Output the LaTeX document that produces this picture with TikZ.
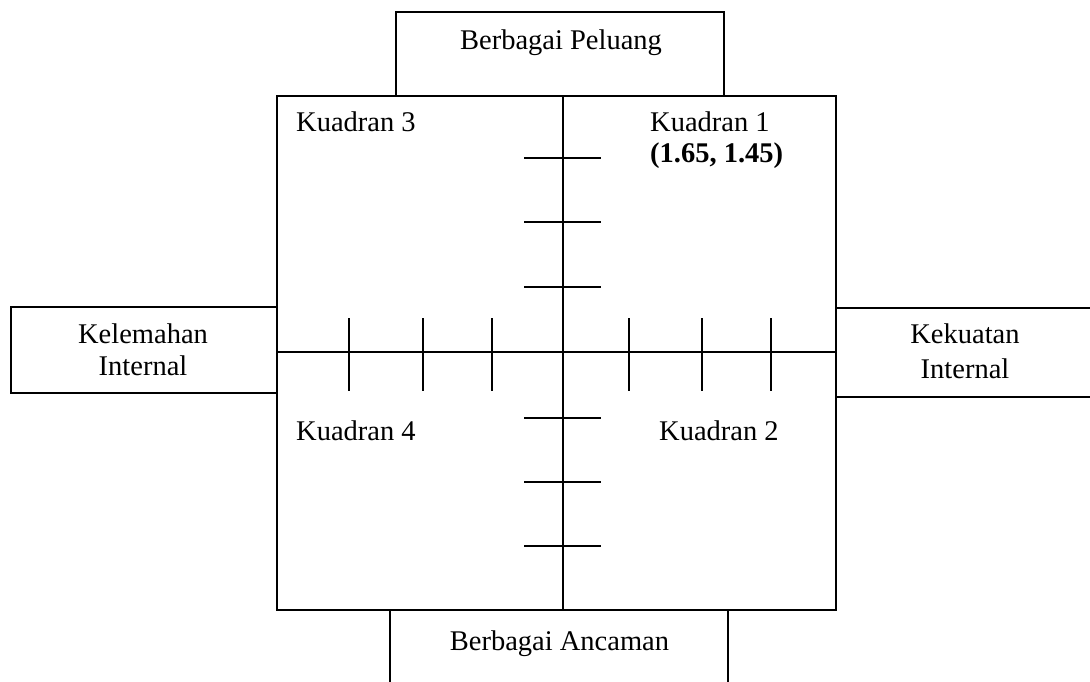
\documentclass[tikz,border=0pt]{standalone}
\usepackage{fontspec}
\setmainfont{Liberation Serif}
\begin{document}
\begin{tikzpicture}[x=1pt,y=-1pt]
	\tikzset{kotak/.style={draw, line width=1.4pt, inner sep=0pt}, teks/.style={font=\fontsize{28.5}{33}\selectfont, inner sep=0pt}};
	\useasboundingbox (0,0) rectangle (1090,682);
	\node[kotak, minimum width=559pt, minimum height=514pt] (matriks) at (556.5,353) {};
	\node[kotak, minimum width=328pt, minimum height=84pt] (peluang) at (560,54) {};
	\node[kotak, minimum width=266pt, minimum height=86pt] (kelemahan) at (144,350) {};
	\node[kotak, minimum width=258pt, minimum height=89pt] (kekuatan) at (965,352.5) {};
	\node[kotak, minimum width=338pt, minimum height=84pt] (ancaman) at (559,652) {};

	\coordinate (O) at (563,352);
	\draw[line width=1.4pt] (O |- matriks.north) -- (O |- matriks.south);
	\draw[line width=1.4pt] (O -| matriks.west) -- (O -| matriks.east);
	\foreach \y in {158,222,287,418,482,546}
		\draw[line width=1.4pt] (524,\y) -- (601,\y);
	\foreach \x in {349,423,492,629,702,771}
		\draw[line width=1.4pt] (\x,318) -- (\x,391);

	\node[teks, anchor=base] (tpeluang) at (561,50) {Berbagai Peluang};
	\node[teks, anchor=base] (tancaman) at (559.5,650) {Berbagai Ancaman};
	\foreach \x/\nm/\ya/\yb/\ta/\tb in {143/kiri/343/375/Kelemahan/Internal, 965/kanan/343/378/Kekuatan/Internal}{
		\node[teks, anchor=base] (\nm1) at (\x,\ya) {\ta};
		\node[teks, anchor=base] (\nm2) at (\x,\yb) {\tb};
	}
	\node[teks, anchor=base west] (k3) at (296,132) {Kuadran 3};
	\node[teks, anchor=base west] (k1) at (650,132) {Kuadran 1};
	\node[teks, anchor=base west, font=\fontsize{28.5}{33}\selectfont\bfseries] (titik) at (650,163) {(1.65, 1.45)};
	\node[teks, anchor=base west] (k4) at (296,440) {Kuadran 4};
	\node[teks, anchor=base west] (k2) at (659,440) {Kuadran 2};
\end{tikzpicture}
\end{document}
